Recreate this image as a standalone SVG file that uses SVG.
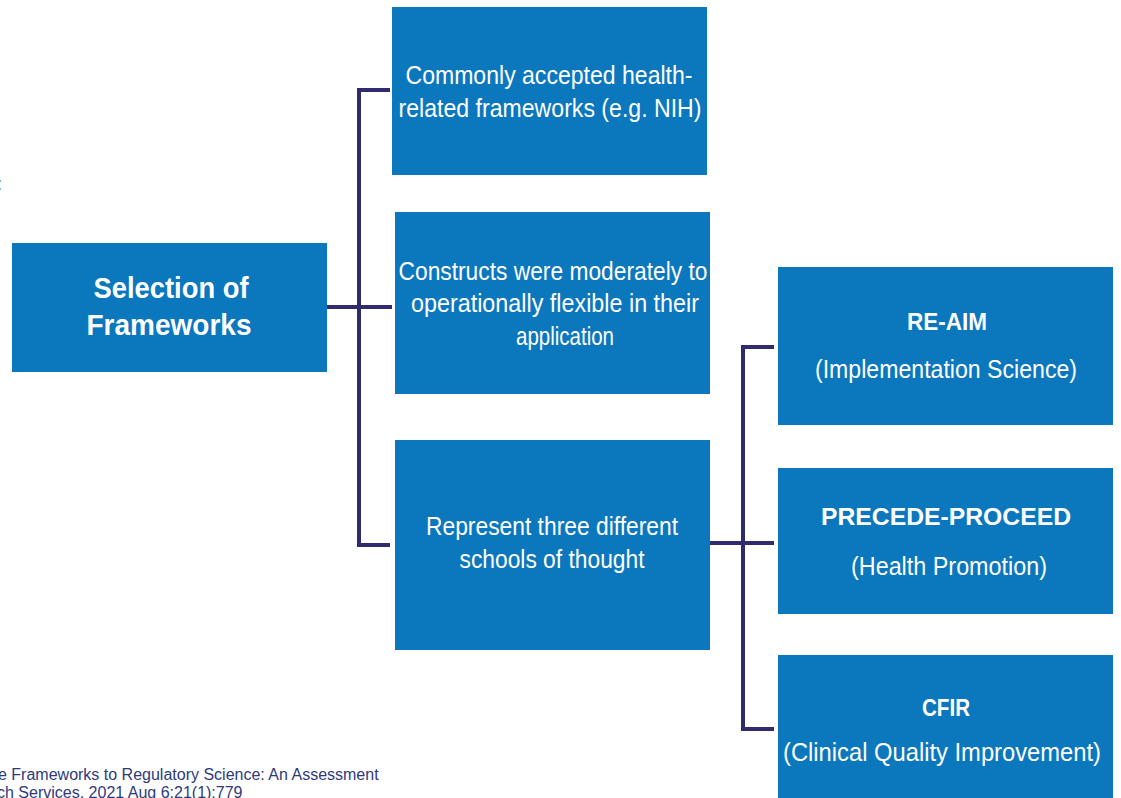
<svg xmlns="http://www.w3.org/2000/svg" width="1121" height="798" viewBox="0 0 1121 798">
<style>
.box{fill:#0b77bd}
.t{fill:#ffffff;font-family:"Liberation Sans",Arial,sans-serif;font-size:25px;text-anchor:middle}
.b{font-weight:bold;font-size:24px}
.big{font-size:30px}
.c{fill:none;stroke:#2f2b6e;stroke-width:4;stroke-linecap:square}
.cite{fill:#2e3a7a;font-family:"Liberation Sans",Arial,sans-serif;font-size:16px}
</style>
<rect width="1121" height="798" fill="#ffffff"/>
<text class="cite" x="-3" y="190" style="font-size:18px">:</text>
<g id="connectors">
<path class="c" d="M388,90 H359 V545 H388"/>
<path class="c" d="M329,307 H390"/>
<path class="c" d="M772,347 H743 V729 H772"/>
<path class="c" d="M712,543 H772"/>
</g>
<g id="selection">
<rect class="box" x="12" y="243" width="315" height="129"/>
<text class="t b big" x="171" y="298" textLength="155" lengthAdjust="spacingAndGlyphs">Selection of</text>
<text class="t b big" x="169" y="335" textLength="165" lengthAdjust="spacingAndGlyphs">Frameworks</text>
</g>
<g id="commonly">
<rect class="box" x="392" y="7" width="315" height="168"/>
<text class="t" x="549" y="84" textLength="287" lengthAdjust="spacingAndGlyphs">Commonly accepted health-</text>
<text class="t" x="550" y="117" textLength="303" lengthAdjust="spacingAndGlyphs">related frameworks (e.g. NIH)</text>
</g>
<g id="constructs">
<rect class="box" x="395" y="212" width="315" height="182"/>
<text class="t" x="553" y="280" textLength="309" lengthAdjust="spacingAndGlyphs">Constructs were moderately to</text>
<text class="t" x="555" y="312" textLength="288" lengthAdjust="spacingAndGlyphs">operationally flexible in their</text>
<text class="t" x="565" y="345" textLength="98" lengthAdjust="spacingAndGlyphs">application</text>
</g>
<g id="represent">
<rect class="box" x="395" y="440" width="315" height="210"/>
<text class="t" x="552" y="535" textLength="252" lengthAdjust="spacingAndGlyphs">Represent three different</text>
<text class="t" x="552" y="568" textLength="185" lengthAdjust="spacingAndGlyphs">schools of thought</text>
</g>
<g id="reaim">
<rect class="box" x="778" y="267" width="335" height="158"/>
<text class="t b" x="947" y="330" textLength="80" lengthAdjust="spacingAndGlyphs">RE-AIM</text>
<text class="t" x="946" y="378" textLength="262" lengthAdjust="spacingAndGlyphs">(Implementation Science)</text>
</g>
<g id="precede">
<rect class="box" x="778" y="468" width="335" height="146"/>
<text class="t b" x="946" y="525" textLength="250" lengthAdjust="spacingAndGlyphs">PRECEDE-PROCEED</text>
<text class="t" x="949" y="575" textLength="196" lengthAdjust="spacingAndGlyphs">(Health Promotion)</text>
</g>
<g id="cfir">
<rect class="box" x="778" y="655" width="335" height="143"/>
<text class="t b" x="946" y="716" textLength="48" lengthAdjust="spacingAndGlyphs">CFIR</text>
<text class="t" x="942" y="761" textLength="318" lengthAdjust="spacingAndGlyphs">(Clinical Quality Improvement)</text>
</g>
<text class="cite" x="-2" y="780">e Frameworks to Regulatory Science: An Assessment</text>
<text class="cite" x="-3" y="798">ch Services. 2021 Aug 6;21(1):779</text>
</svg>
